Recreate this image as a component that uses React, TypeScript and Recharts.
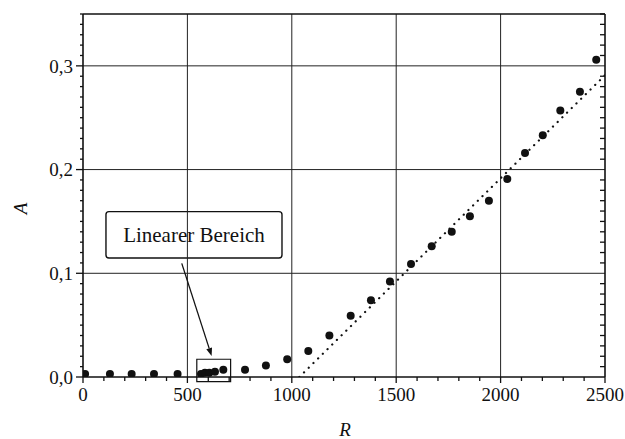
import React from 'react';
import {
  ComposedChart,
  XAxis,
  YAxis,
  Scatter,
  Line,
  ReferenceLine,
  ReferenceArea,
} from 'recharts';

// ---- data ----
const rValues = [10, 129, 233, 340, 453, 565, 584, 605, 632, 672, 776, 876, 978, 1079, 1180, 1282, 1379, 1470, 1571, 1670, 1766, 1853, 1944, 2032, 2117, 2202, 2286, 2380, 2458];
const aValues = [0.003, 0.003, 0.003, 0.003, 0.003, 0.003, 0.004, 0.004, 0.005, 0.007, 0.007, 0.011, 0.017, 0.025, 0.040, 0.059, 0.074, 0.092, 0.109, 0.126, 0.140, 0.155, 0.170, 0.191, 0.216, 0.233, 0.257, 0.275, 0.306];
const trendR = [1036, 2500];
const trendA = [0, 0.291];

const xMajor = [0, 500, 1000, 1500, 2000, 2500];
const yMajor = [0, 0.1, 0.2, 0.3];
const xMinorStep = 100;
const yMinorStep = 0.01;

const xTicks = Array.from({ length: 2500 / xMinorStep + 1 }, (_, i) => i * xMinorStep);
const yTicks = Array.from({ length: 36 }, (_, i) => Math.round(i * yMinorStep * 100) / 100);

const points = rValues.map((r, i) => ({ x: r, y: aValues[i] }));
const trend = trendR.map((r, i) => ({ x: r, y: trendA[i] }));

const FONT = '"Liberation Serif", "DejaVu Serif", serif';
const INK = '#111';

const isMajorX = (v: number) => xMajor.includes(v);
const isMajorY = (v: number) => Math.round(v * 100) % 10 === 0;
const fmtY = (v: number) => v.toFixed(1).replace('.', ',');

const BottomTick = (p: any) => {
  const { x, y, payload } = p;
  const major = isMajorX(payload.value);
  return (
    <g>
      <line x1={x} x2={x} y1={y} y2={y + (major ? 6 : 4)} stroke={INK} strokeWidth={1.3} />
      {major && (
        <text x={x} y={y + 24} textAnchor="middle" fontFamily={FONT} fontSize={19} fill={INK}>
          {payload.value}
        </text>
      )}
    </g>
  );
};

const TopTick = (p: any) => {
  const { x, y, payload } = p;
  const major = isMajorX(payload.value);
  return <line x1={x} x2={x} y1={y} y2={y + (major ? 0 : 4)} stroke={INK} strokeWidth={1.3} />;
};

const LeftTick = (p: any) => {
  const { x, y, payload } = p;
  const major = isMajorY(payload.value);
  return (
    <g>
      <line x1={x - (major ? 7 : 3)} x2={x} y1={y} y2={y} stroke={INK} strokeWidth={1.3} />
      {major && (
        <text x={x - 10} y={y} dy="0.35em" textAnchor="end" fontFamily={FONT} fontSize={19} fill={INK}>
          {fmtY(payload.value)}
        </text>
      )}
    </g>
  );
};

const RightTick = (p: any) => {
  const { x, y, payload } = p;
  const major = isMajorY(payload.value);
  return <line x1={x - (major ? 0 : 5)} x2={x} y1={y} y2={y} stroke={INK} strokeWidth={1.3} />;
};

const Dot = (p: any) => <circle cx={p.cx} cy={p.cy} r={4} fill={INK} />;

const Arrow = (p: any) => {
  const { x1, y1, x2, y2 } = p;
  const ang = Math.atan2(y2 - y1, x2 - x1);
  const L = 8;
  const W = 3;
  const bx = x2 - L * Math.cos(ang);
  const by = y2 - L * Math.sin(ang);
  const px = -Math.sin(ang) * W;
  const py = Math.cos(ang) * W;
  return (
    <g>
      <line x1={x1} y1={y1} x2={bx} y2={by} stroke={INK} strokeWidth={1.3} />
      <polygon points={`${x2},${y2} ${bx + px},${by + py} ${bx - px},${by - py}`} fill={INK} />
    </g>
  );
};

const YLabel = (p: any) => {
  const vb = p.viewBox;
  const cx = vb.x + 20;
  const cy = vb.y + vb.height / 2 + 13;
  return (
    <text x={cx} y={cy} dy="0.35em" textAnchor="middle" fontFamily={FONT} fontStyle="italic" fontSize={19} fill={INK} transform={`rotate(-90, ${cx}, ${cy})`}>
      A
    </text>
  );
};

const XLabel = (p: any) => {
  const vb = p.viewBox;
  return (
    <text x={vb.x + vb.width / 2 + 1} y={vb.y + 52} dy="0.35em" textAnchor="middle" fontFamily={FONT} fontStyle="italic" fontSize={19} fill={INK}>
      R
    </text>
  );
};

export default function App() {
  return (
    <div style={{ position: 'absolute', left: 0, top: 0, width: 625, height: 439, background: '#fff' }}>
      <ComposedChart width={625} height={439} margin={{ top: 0, right: 0, bottom: 0, left: 0 }} style={{ fontFamily: FONT }}>
        <XAxis
          xAxisId={0}
          dataKey="x"
          type="number"
          domain={[0, 2500]}
          allowDataOverflow
          ticks={xTicks}
          interval={0}
          height={62}
          tickSize={0}
          tickMargin={0}
          tickLine={false}
          tick={<BottomTick />}
          axisLine={{ stroke: INK, strokeWidth: 1.6 }}
          label={<XLabel />}
        />
        <XAxis
          xAxisId="top"
          orientation="top"
          type="number"
          domain={[0, 2500]}
          allowDataOverflow
          ticks={xTicks}
          interval={0}
          height={14}
          tickSize={0}
          tickMargin={0}
          tickLine={false}
          tick={<TopTick />}
          axisLine={{ stroke: INK, strokeWidth: 1.6 }}
        />
        <YAxis
          yAxisId={0}
          type="number"
          domain={[0, 0.35]}
          allowDataOverflow
          ticks={yTicks}
          interval={0}
          width={83}
          tickSize={0}
          tickMargin={0}
          tickLine={false}
          tick={<LeftTick />}
          axisLine={{ stroke: INK, strokeWidth: 1.6 }}
          label={<YLabel />}
        />
        <YAxis
          yAxisId="right"
          orientation="right"
          type="number"
          domain={[0, 0.35]}
          allowDataOverflow
          ticks={yTicks}
          interval={0}
          width={20}
          tickSize={0}
          tickMargin={0}
          tickLine={false}
          tick={<RightTick />}
          axisLine={{ stroke: INK, strokeWidth: 1.6 }}
        />

        {xMajor.slice(1, -1).map((v) => (
          <ReferenceLine key={'vx' + v} x={v} stroke="#222" strokeWidth={1} />
        ))}
        {yMajor.slice(1).map((v) => (
          <ReferenceLine key={'hy' + v} y={v} stroke="#222" strokeWidth={1} />
        ))}

        <ReferenceArea
          x1={110}
          x2={953}
          y1={0.1148}
          y2={0.1595}
          fill="#fff"
          fillOpacity={1}
          stroke={INK}
          strokeWidth={1.4}
          radius={3}
          ifOverflow="visible"
          label={{ value: 'Linearer Bereich', position: 'center', fontSize: 21, fill: INK, fontFamily: FONT }}
        />
        <ReferenceArea
          x1={545}
          x2={707}
          y1={-0.0045}
          y2={0.0171}
          fill="none"
          fillOpacity={0}
          stroke={INK}
          strokeWidth={1.2}
          ifOverflow="visible"
        />
        <ReferenceLine
          segment={[{ x: 473, y: 0.1096 }, { x: 616, y: 0.0203 }]}
          ifOverflow="visible"
          stroke={INK}
          shape={<Arrow />}
        />

        <Line
          data={trend}
          dataKey="y"
          stroke={INK}
          strokeWidth={2.2}
          strokeDasharray="0.1 6.5"
          strokeLinecap="round"
          dot={false}
          activeDot={false}
          isAnimationActive={false}
        />
        <Scatter data={points} dataKey="y" shape={<Dot />} isAnimationActive={false} />
      </ComposedChart>
    </div>
  );
}
